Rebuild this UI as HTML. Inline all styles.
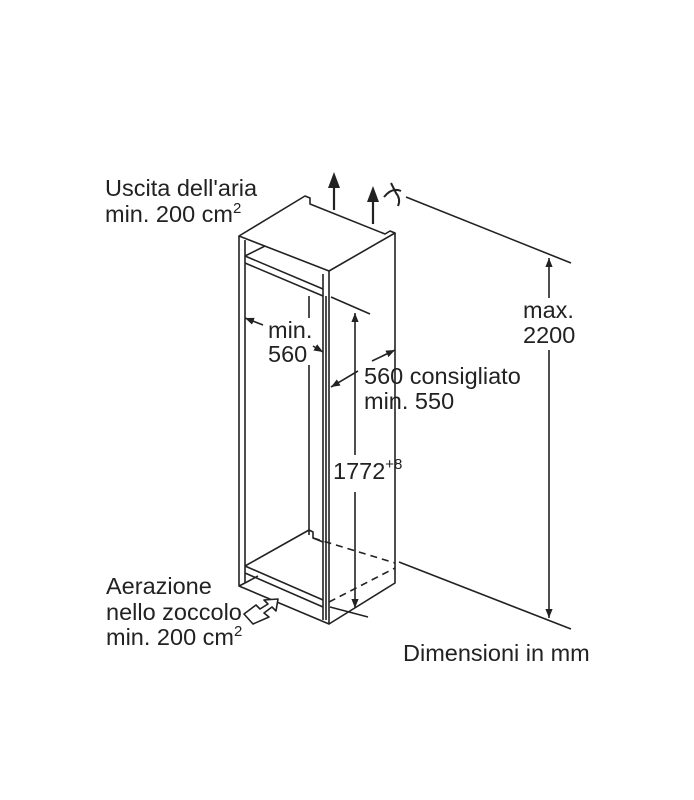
<!DOCTYPE html>
<html><head><meta charset="utf-8"><style>
html,body{margin:0;padding:0;background:#fff;}
svg{display:block}
text{font-family:"Liberation Sans",Arial,sans-serif;font-size:23.5px;fill:#222}
</style></head><body>
<svg width="694" height="800" viewBox="0 0 694 800" xmlns="http://www.w3.org/2000/svg">
<defs>
<marker id="ah" viewBox="0 0 10 10" refX="10" refY="5" markerWidth="9" markerHeight="9" orient="auto-start-reverse" markerUnits="userSpaceOnUse"><path d="M0,1 L10,5 L0,9 z" fill="#222"/></marker>
</defs>
<g stroke="#222" stroke-width="1.6" fill="none" stroke-linejoin="round">
<path d="M239,236 L305,196 L310,198 L310,204 L385,234 L390,231 L395,233 L329,271 Z"/>
<path d="M239,236 L239,586 L329,624 L329,271"/>
<path d="M245,240 L245,583"/>
<path d="M323,274 L323,620"/>
<path d="M245,256 L323,289"/>
<path d="M245,263 L323,296"/>
<path d="M245,256 L265,246"/>
<path d="M245,566 L323,600"/>
<path d="M245,573 L323,607"/>
<path d="M245,583 L258,576"/>
<path d="M239,586 L245,583"/>
<path d="M395,233 L395,583 L329,624"/>
<path d="M326,296 L326,620"/>
<path d="M309,296 L309,318 M309,365 L309,535"/>
<path d="M245,566 L309,530 L313,532 L313,538 L323,542"/>
<path d="M313,538 L395,563" stroke-dasharray="7,5"/>
<path d="M329,602 L395,568" stroke-dasharray="7,5"/>
<path d="M331,297 L370,314"/>
<path d="M330,607 L368,617"/>
<path d="M406,197 L571,263"/>
<path d="M399,562 L571,629"/>
<path d="M355,455 L355,313" marker-end="url(#ah)"/>
<path d="M355,492 L355,608" marker-end="url(#ah)"/>
<path d="M549,298 L549,258" marker-end="url(#ah)"/>
<path d="M549,350 L549,618" marker-end="url(#ah)"/>
<path d="M263,325 L245,318" marker-end="url(#ah)"/>
<path d="M313,346 L323,352" marker-end="url(#ah)"/>
<path d="M372,361 L395,350" marker-end="url(#ah)"/>
<path d="M358,371 L331,387" marker-end="url(#ah)"/>
<path d="M334,210 L334,178" stroke-width="2.2"/>
<path d="M373,224 L373,192" stroke-width="2.2"/>
<path d="M384,197 Q392,187 401,191 M391,183 L396,193 Q401,199 398,206" stroke-width="2"/>
<path d="M244,614 L256,605 L260,609 L268,604 L264,600 L278,599 L276,611 L272,607 L264,613 L269,617 L253,624 Z" fill="#fff"/>
</g>
<path d="M334,172 L328,188 L340,188 Z M373,186 L367,202 L379,202 Z" fill="#222"/>
<text x="105" y="196">Uscita dell'aria</text>
<text x="105" y="222">min. 200 cm<tspan font-size="15" dy="-9">2</tspan></text>
<text x="268" y="338">min.</text>
<text x="268" y="362">560</text>
<text x="364" y="384">560 consigliato</text>
<text x="364" y="409">min. 550</text>
<text x="333" y="479">1772<tspan font-size="15" dy="-10">+8</tspan></text>
<text x="523" y="318">max.</text>
<text x="523" y="343">2200</text>
<text x="106" y="594">Aerazione</text>
<text x="106" y="620">nello zoccolo</text>
<text x="106" y="645">min. 200 cm<tspan font-size="15" dy="-9">2</tspan></text>
<text x="403" y="661">Dimensioni in mm</text>
</svg>
</body></html>
